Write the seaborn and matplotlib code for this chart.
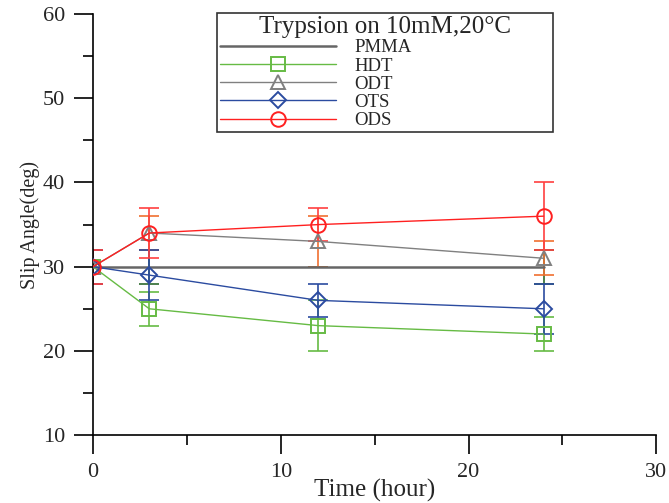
import matplotlib
matplotlib.use("Agg")
import matplotlib.pyplot as plt
import seaborn as sns
import pandas as pd
from matplotlib.ticker import MultipleLocator

# Dados
tempo = [0, 3, 12, 24]
pmma = [30, 30, 30, 30]
pmma_err = [2, 2, 0, 2]
hdt = [30, 25, 23, 22]
hdt_err = [2, 2, 3, 2]
odt = [30, 34, 33, 31]
odt_err = [2, 2, 3, 2]
ots = [30, 29, 26, 25]
ots_err = [2, 3, 2, 3]
ods = [30, 34, 35, 36]
ods_err = [2, 3, 2, 4]

series = ["PMMA", "HDT", "ODT", "OTS", "ODS"]
valores = [pmma, hdt, odt, ots, ods]
erros = [pmma_err, hdt_err, odt_err, ots_err, ods_err]
cores = ["#666666", "#66bb44", "#808080", "#2b4ba0", "#ff2020"]
cores_erro = ["#2e6b2e", "#66bb44", "#f07030", "#2b4ba0", "#ff4040"]
marcadores = [None, "s", "^", "D", "o"]
tamanhos = [0, 9.5, 9.5, 8, 10.5]

sns.set_style("ticks")
plt.rcParams["font.family"] = ["Liberation Serif", "DejaVu Serif"]

fig = plt.figure(figsize=(6.69, 5.03), dpi=100)
ax = fig.add_axes([0.139, 0.135, 0.842, 0.837])

for nome, y, e, c, ce, m, ms in zip(series, valores, erros, cores, cores_erro, marcadores, tamanhos):
    df = pd.DataFrame({"Tempo": tempo, "Valor": y})
    ax.errorbar(tempo, y, yerr=e, fmt="none", ecolor=ce, elinewidth=1.2,
                capsize=7, capthick=1.2, zorder=2)
    if m is None:
        sns.lineplot(data=df, x="Tempo", y="Valor", color=c, linewidth=1.8,
                     label=nome, ax=ax, zorder=3)
    else:
        sns.lineplot(data=df, x="Tempo", y="Valor", color=c, linewidth=1.0,
                     marker=m, markersize=ms, markerfacecolor="none",
                     markeredgecolor=c, markeredgewidth=1.4,
                     label=nome, ax=ax, zorder=4)

ax.set_xlim(0, 30)
ax.set_ylim(10, 60)
ax.xaxis.set_major_locator(MultipleLocator(10))
ax.xaxis.set_minor_locator(MultipleLocator(5))
ax.yaxis.set_major_locator(MultipleLocator(10))
ax.yaxis.set_minor_locator(MultipleLocator(5))
ax.tick_params(which="major", direction="out", length=14, width=1.2,
               labelsize=16, color="black", pad=6)
ax.tick_params(which="minor", direction="out", length=7, width=1.2, color="black")
for s in ["top", "right"]:
    ax.spines[s].set_visible(False)
for s in ["left", "bottom"]:
    ax.spines[s].set_linewidth(1.2)
    ax.spines[s].set_color("black")

ax.set_xlabel("Time (hour)", fontsize=18, labelpad=-2)
ax.set_ylabel("Slip Angle(deg)", fontsize=14.5, labelpad=2)

leg = ax.legend(title="Trypsion on 10mM,20\u00b0C", loc="upper left",
                bbox_to_anchor=(0.220, 0.70, 0.597, 0.302), mode="expand",
                fontsize=13.5, title_fontsize=18,
                frameon=True, fancybox=False, edgecolor="black",
                handlelength=6.2, handletextpad=1.0, labelspacing=0.06,
                borderpad=0.15, borderaxespad=0)
leg.get_frame().set_linewidth(1.2)

plt.savefig("out.png", dpi=100)
plt.close()
